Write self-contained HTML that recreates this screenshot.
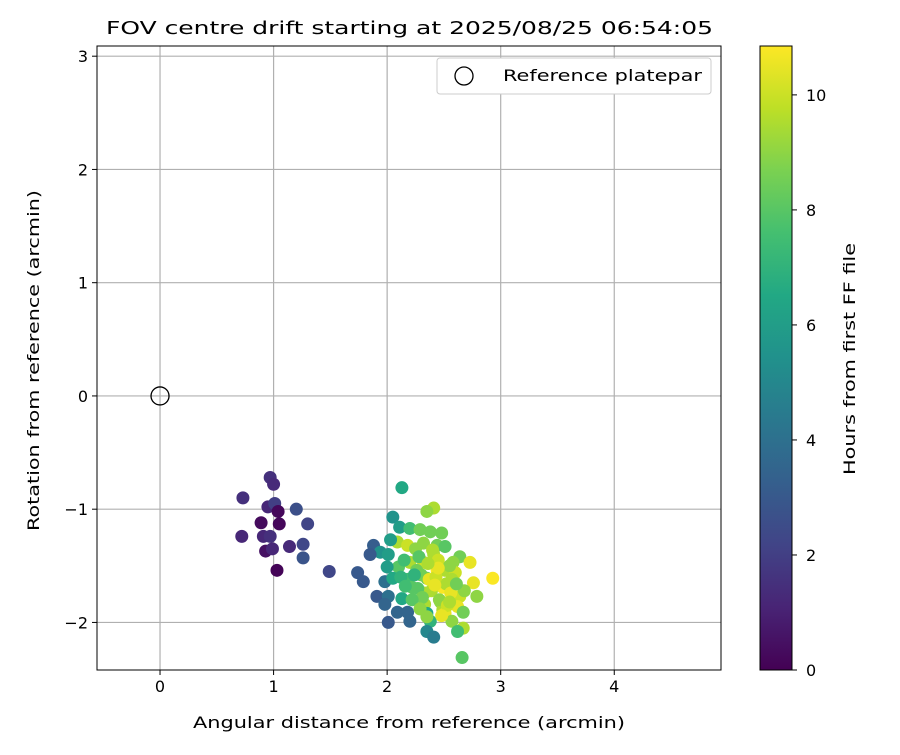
<!DOCTYPE html>
<html><head><meta charset="utf-8"><style>
body{margin:0;background:#fff;}
svg text{font-family:"DejaVu Sans","Liberation Sans",sans-serif;fill:#000;}
</style></head><body>
<svg id="chart" width="900" height="750" xmlns="http://www.w3.org/2000/svg">
<defs>
<linearGradient id="vir" x1="0" y1="1" x2="0" y2="0">
<stop offset="0" stop-color="#440154"/><stop offset="0.1" stop-color="#482475"/><stop offset="0.2" stop-color="#414487"/><stop offset="0.3" stop-color="#355f8d"/><stop offset="0.4" stop-color="#2a788e"/><stop offset="0.5" stop-color="#21918c"/><stop offset="0.6" stop-color="#22a884"/><stop offset="0.7" stop-color="#44bf70"/><stop offset="0.8" stop-color="#7ad151"/><stop offset="0.9" stop-color="#bddf26"/><stop offset="1" stop-color="#fde725"/>
</linearGradient>
<clipPath id="pc"><rect x="97" y="46" width="624" height="624"/></clipPath>
</defs>
<text x="106" y="34" font-size="18" textLength="607" lengthAdjust="spacingAndGlyphs">FOV centre drift starting at 2025/08/25 06:54:05</text>
<g id="grid"></g>
<g id="pts" clip-path="url(#pc)"></g>
<rect x="97" y="46" width="624" height="624" fill="none" stroke="#000" stroke-width="1"/>
<g id="ticks"></g>
<text x="193" y="728" font-size="16" textLength="432" lengthAdjust="spacingAndGlyphs">Angular distance from reference (arcmin)</text>
<text x="39" y="531" font-size="16" textLength="341" lengthAdjust="spacingAndGlyphs" transform="rotate(-90 39 531)">Rotation from reference (arcmin)</text>
<g>
<rect x="437" y="58" width="274" height="36" rx="3" fill="#fff" stroke="#ccc"/>
<circle cx="464" cy="76" r="9" fill="none" stroke="#000" stroke-width="1.3"/>
<text x="503" y="81" font-size="16" textLength="199" lengthAdjust="spacingAndGlyphs">Reference platepar</text>
</g>
<rect x="760" y="46" width="32" height="624" fill="url(#vir)" stroke="#000"/>
<g id="cbticks"></g>
<text x="855" y="475" font-size="16" textLength="232" lengthAdjust="spacingAndGlyphs" transform="rotate(-90 855 475)">Hours from first FF file</text>
</svg>
<script>
const xTicks=[0,1,2,3,4];
const yTicks=[-2,-1,0,1,2,3];
const cTicks=[0,2,4,6,8,10];
const xs=[0.73,0.72,0.97,1.0,0.95,1.01,1.04,0.89,1.05,0.91,0.97,0.93,0.99,1.03,1.14,1.20,1.30,1.26,1.26,1.49,
2.13,2.41,2.35,2.05,2.11,2.20,2.29,2.38,2.48,2.09,2.18,2.32,2.44,2.51,1.88,2.03,1.94,1.85,2.01,2.41,2.64,2.20,2.32,2.58,2.73,2.10,2.00,2.26,2.44,2.51,2.60,1.74,1.79,1.98,2.05,2.18,2.35,2.76,2.93,2.22,2.49,2.33,2.64,2.79,1.91,2.01,2.13,1.98,2.33,2.47,2.62,2.09,2.18,2.35,2.49,2.51,2.67,2.01,2.20,2.38,2.57,2.67,2.35,2.41,2.62,2.66,
2.25,2.28,2.40,2.45,2.55,2.30,2.37,2.52,2.43,2.27,2.39,2.56,2.46,2.31,2.24,2.53,2.35,2.45,2.15,2.12,2.57,2.68,2.42,2.36,2.22,2.29,2.48,2.55,2.61,2.16];
const ys=[-0.90,-1.24,-0.72,-0.78,-0.98,-0.95,-1.02,-1.12,-1.13,-1.24,-1.24,-1.37,-1.35,-1.54,-1.33,-1.00,-1.13,-1.31,-1.43,-1.55,
-0.81,-0.99,-1.02,-1.07,-1.16,-1.17,-1.18,-1.20,-1.21,-1.29,-1.32,-1.30,-1.32,-1.33,-1.32,-1.27,-1.38,-1.40,-1.40,-1.40,-1.42,-1.47,-1.47,-1.47,-1.47,-1.51,-1.51,-1.54,-1.54,-1.54,-1.56,-1.56,-1.64,-1.64,-1.61,-1.62,-1.61,-1.65,-1.61,-1.69,-1.69,-1.74,-1.77,-1.77,-1.77,-1.77,-1.79,-1.84,-1.84,-1.82,-1.86,-1.91,-1.91,-1.92,-1.89,-1.92,-1.91,-2.00,-1.99,-1.99,-1.99,-2.05,-2.08,-2.13,-2.08,-2.31,
-1.35,-1.42,-1.36,-1.45,-1.50,-1.58,-1.62,-1.66,-1.60,-1.70,-1.72,-1.74,-1.80,-1.78,-1.58,-1.85,-1.95,-1.52,-1.45,-1.60,-1.62,-1.72,-1.67,-1.48,-1.80,-1.88,-1.94,-1.82,-1.66,-1.68];
const hours=[1.5,1.2,1.5,1.3,1.2,2.0,0.2,0.3,0.2,1.2,1.5,0.5,1.2,0.1,1.3,2.6,2.2,2.3,2.8,2.3,
6.5,9.5,9.0,5.5,6.0,7.5,8.5,8.5,8.5,9.5,10.0,9.0,8.5,8.0,3.2,6.0,5.5,3.0,6.0,9.5,8.5,9.5,10.0,9.0,10.5,8.0,6.0,8.5,10.8,9.5,10.0,3.0,3.0,4.0,6.5,7.5,8.5,10.5,10.8,8.0,10.8,9.5,10.0,9.0,3.0,4.0,6.5,3.5,9.5,9.0,10.5,3.5,3.5,6.5,9.5,10.5,8.5,3.0,3.5,7.0,9.0,9.5,5.0,4.5,7.5,8.0,
9.0,8.0,9.5,10.0,9.0,8.5,10.5,9.5,10.0,8.0,9.5,10.5,9.0,8.5,7.0,10.0,9.0,10.5,7.5,7.0,9.5,9.0,10.5,9.5,8.0,9.0,10.5,9.5,8.5,7.5];
const NS="http://www.w3.org/2000/svg";
const X0=97,X1=721,Y0=46,Y1=670,xMin=-0.555,xMax=4.94,yMin=-2.42,yMax=3.09,cMax=10.85;
const sx=v=>X0+(v-xMin)/(xMax-xMin)*(X1-X0);
const sy=v=>Y1-(v-yMin)/(yMax-yMin)*(Y1-Y0);
const sc=v=>Y1-v/cMax*(Y1-Y0);
const vstops=[[68,1,84],[72,36,117],[65,68,135],[53,95,141],[42,120,142],[33,145,140],[34,168,132],[68,191,112],[122,209,81],[189,223,38],[253,231,37]];
function vir(t){t=Math.max(0,Math.min(1,t))*10;const i=Math.min(9,Math.floor(t)),f=t-i;const a=vstops[i],b=vstops[i+1];return `rgb(${a.map((c,k)=>Math.round(c+(b[k]-c)*f)).join(',')})`;}
function mk(tag,attrs,parent){const e=document.createElementNS(NS,tag);for(const k in attrs)e.setAttribute(k,attrs[k]);parent.appendChild(e);return e;}
const grid=document.getElementById('grid'),ticks=document.getElementById('ticks'),pts=document.getElementById('pts'),cb=document.getElementById('cbticks');
xTicks.forEach(v=>{const x=sx(v);
const l=mk('line',{x1:x,x2:x,y1:Y0,y2:Y1,stroke:'#b0b0b0','stroke-width':1.2},grid);

mk('line',{x1:x,x2:x,y1:Y1,y2:Y1+5,stroke:'#000'},ticks);
const t=mk('text',{x:x,y:Y1+22,'font-size':16,'text-anchor':'middle'},ticks);t.textContent=String(v);
});
yTicks.forEach(v=>{const y=sy(v);
const l=mk('line',{x1:X0,x2:X1,y1:y,y2:y,stroke:'#b0b0b0','stroke-width':1.2},grid);

mk('line',{x1:X0-5,x2:X0,y1:y,y2:y,stroke:'#000'},ticks);
const t=mk('text',{x:X0-9,y:y+6,'font-size':16,'text-anchor':'end'},ticks);t.textContent=v<0?'\u2212'+(-v):String(v);
});
cTicks.forEach(v=>{const y=sc(v);
mk('line',{x1:792,x2:797,y1:y,y2:y,stroke:'#000'},cb);
const t=mk('text',{x:806,y:y+6,'font-size':16},cb);t.textContent=String(v);
});
xs.forEach((v,i)=>{const c=mk('circle',{cx:sx(v),cy:sy(ys[i]),r:6.5,fill:vir(hours[i]/cMax)},pts);
});
const ref=mk('circle',{cx:sx(0),cy:sy(0),r:9,fill:'none',stroke:'#000','stroke-width':1.3},pts);


</script>
</body></html>
